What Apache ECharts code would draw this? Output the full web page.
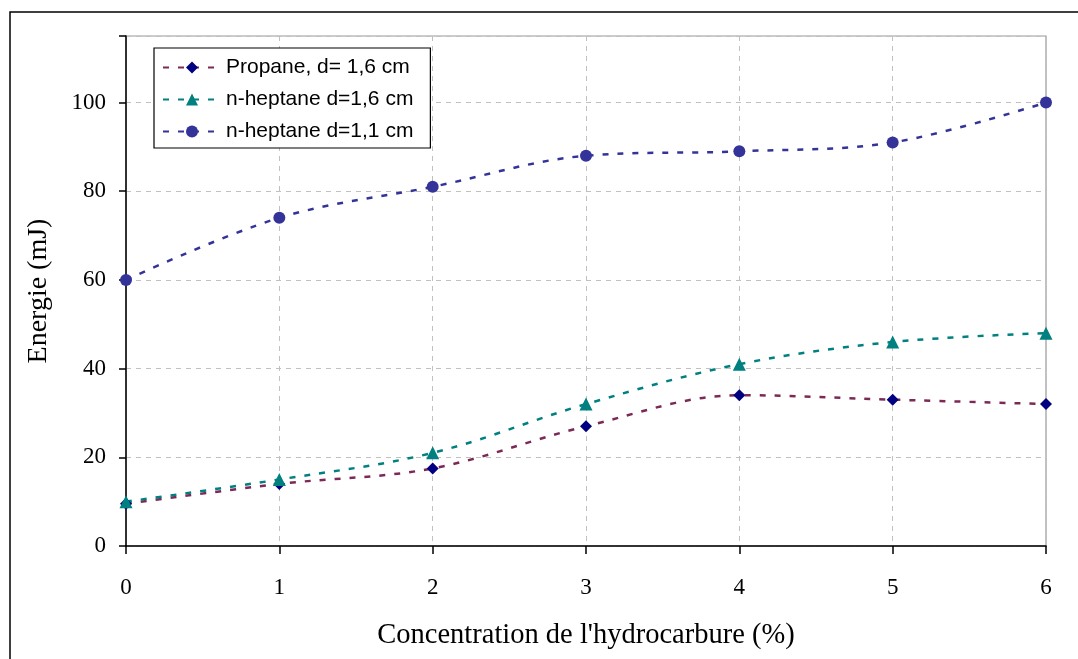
<!DOCTYPE html>
<html><head><meta charset="utf-8">
<script src="https://cdn.jsdelivr.net/npm/echarts@6/dist/echarts.min.js"></script>
<style>html,body{margin:0;padding:0;background:#fff}#c{width:1078px;height:659px}</style>
</head><body><div id="c"></div>
<script>
const categories = [0, 1, 2, 3, 4, 5, 6];
const propane16 = [9.5, 14, 17.5, 27, 34, 33, 32];
const heptane16 = [10, 15, 21, 32, 41, 46, 48];
const heptane11 = [60, 74, 81, 88, 89, 91, 100];
const seriesNames = ['Propane, d= 1,6 cm', 'n-heptane d=1,6 cm', 'n-heptane d=1,1 cm'];
const yTicks = [0, 20, 40, 60, 80, 100];

const chart = echarts.init(document.getElementById('c'), null, {renderer: 'canvas'});
const pair = arr => categories.map((x, i) => [x, arr[i]]);
function mkSeries(name, data, lineColor, symColor, symbol, size) {
  return {
    name, type: 'line', data: pair(data), smooth: 0.35,
    symbol, symbolSize: size,
    lineStyle: {color: lineColor, width: 2.5, type: [6, 9]},
    itemStyle: {color: symColor},
    z: 3
  };
}
chart.setOption({
  animation: false,
  backgroundColor: '#fff',
  graphic: [{
    type: 'rect', shape: {x: 10, y: 12, width: 1100, height: 700},
    style: {fill: 'none', stroke: '#000', lineWidth: 1.5}, z: 0
  }],
  grid: {left: 126, right: 32, top: 36, bottom: 113, show: true, borderColor: '#999', borderWidth: 1.2, backgroundColor: 'transparent'},
  legend: {
    show: true, left: 154, top: 48, orient: 'vertical',
    backgroundColor: '#fff', borderColor: '#000', borderWidth: 1.2,
    padding: [9, 17, 6, 8], itemGap: 11, itemWidth: 58, itemHeight: 15,
    textStyle: {fontFamily: 'Liberation Sans', fontSize: 21, color: '#000'},
    data: seriesNames
  },
  xAxis: {
    type: 'value', min: 0, max: 6, interval: 1,
    name: "Concentration de l'hydrocarbure (%)", nameLocation: 'middle', nameGap: 75,
    nameTextStyle: {fontFamily: 'Liberation Serif', fontSize: 28.5, color: '#000'},
    axisLine: {lineStyle: {color: '#000', width: 1.5}},
    axisTick: {show: true, length: 8, lineStyle: {color: '#000', width: 1.5}},
    axisLabel: {fontFamily: 'Liberation Serif', fontSize: 23, color: '#000', margin: 30},
    splitLine: {show: true, lineStyle: {color: '#c0c0c0', type: [5, 5], width: 1}}
  },
  yAxis: {
    type: 'value', min: 0, max: 115, interval: 20,
    name: 'Energie (mJ)', nameLocation: 'middle', nameGap: 73, nameRotate: 90,
    nameTextStyle: {fontFamily: 'Liberation Serif', fontSize: 28, color: '#000'},
    axisLine: {show: true, lineStyle: {color: '#000', width: 1.5}},
    axisTick: {show: true, length: 7, lineStyle: {color: '#000', width: 1.5}},
    axisLabel: {fontFamily: 'Liberation Serif', fontSize: 23, color: '#000', margin: 20,
      formatter: v => yTicks.includes(v) ? String(v) : ''},
    splitLine: {show: true, lineStyle: {color: '#c0c0c0', type: [5, 5], width: 1}}
  },
  series: [
    mkSeries(seriesNames[0], propane16, '#7b2a55', '#000080', 'diamond', 12),
    mkSeries(seriesNames[1], heptane16, '#008080', '#008080', 'triangle', 13),
    mkSeries(seriesNames[2], heptane11, '#333399', '#333399', 'circle', 12)
  ]
});
</script></body></html>
